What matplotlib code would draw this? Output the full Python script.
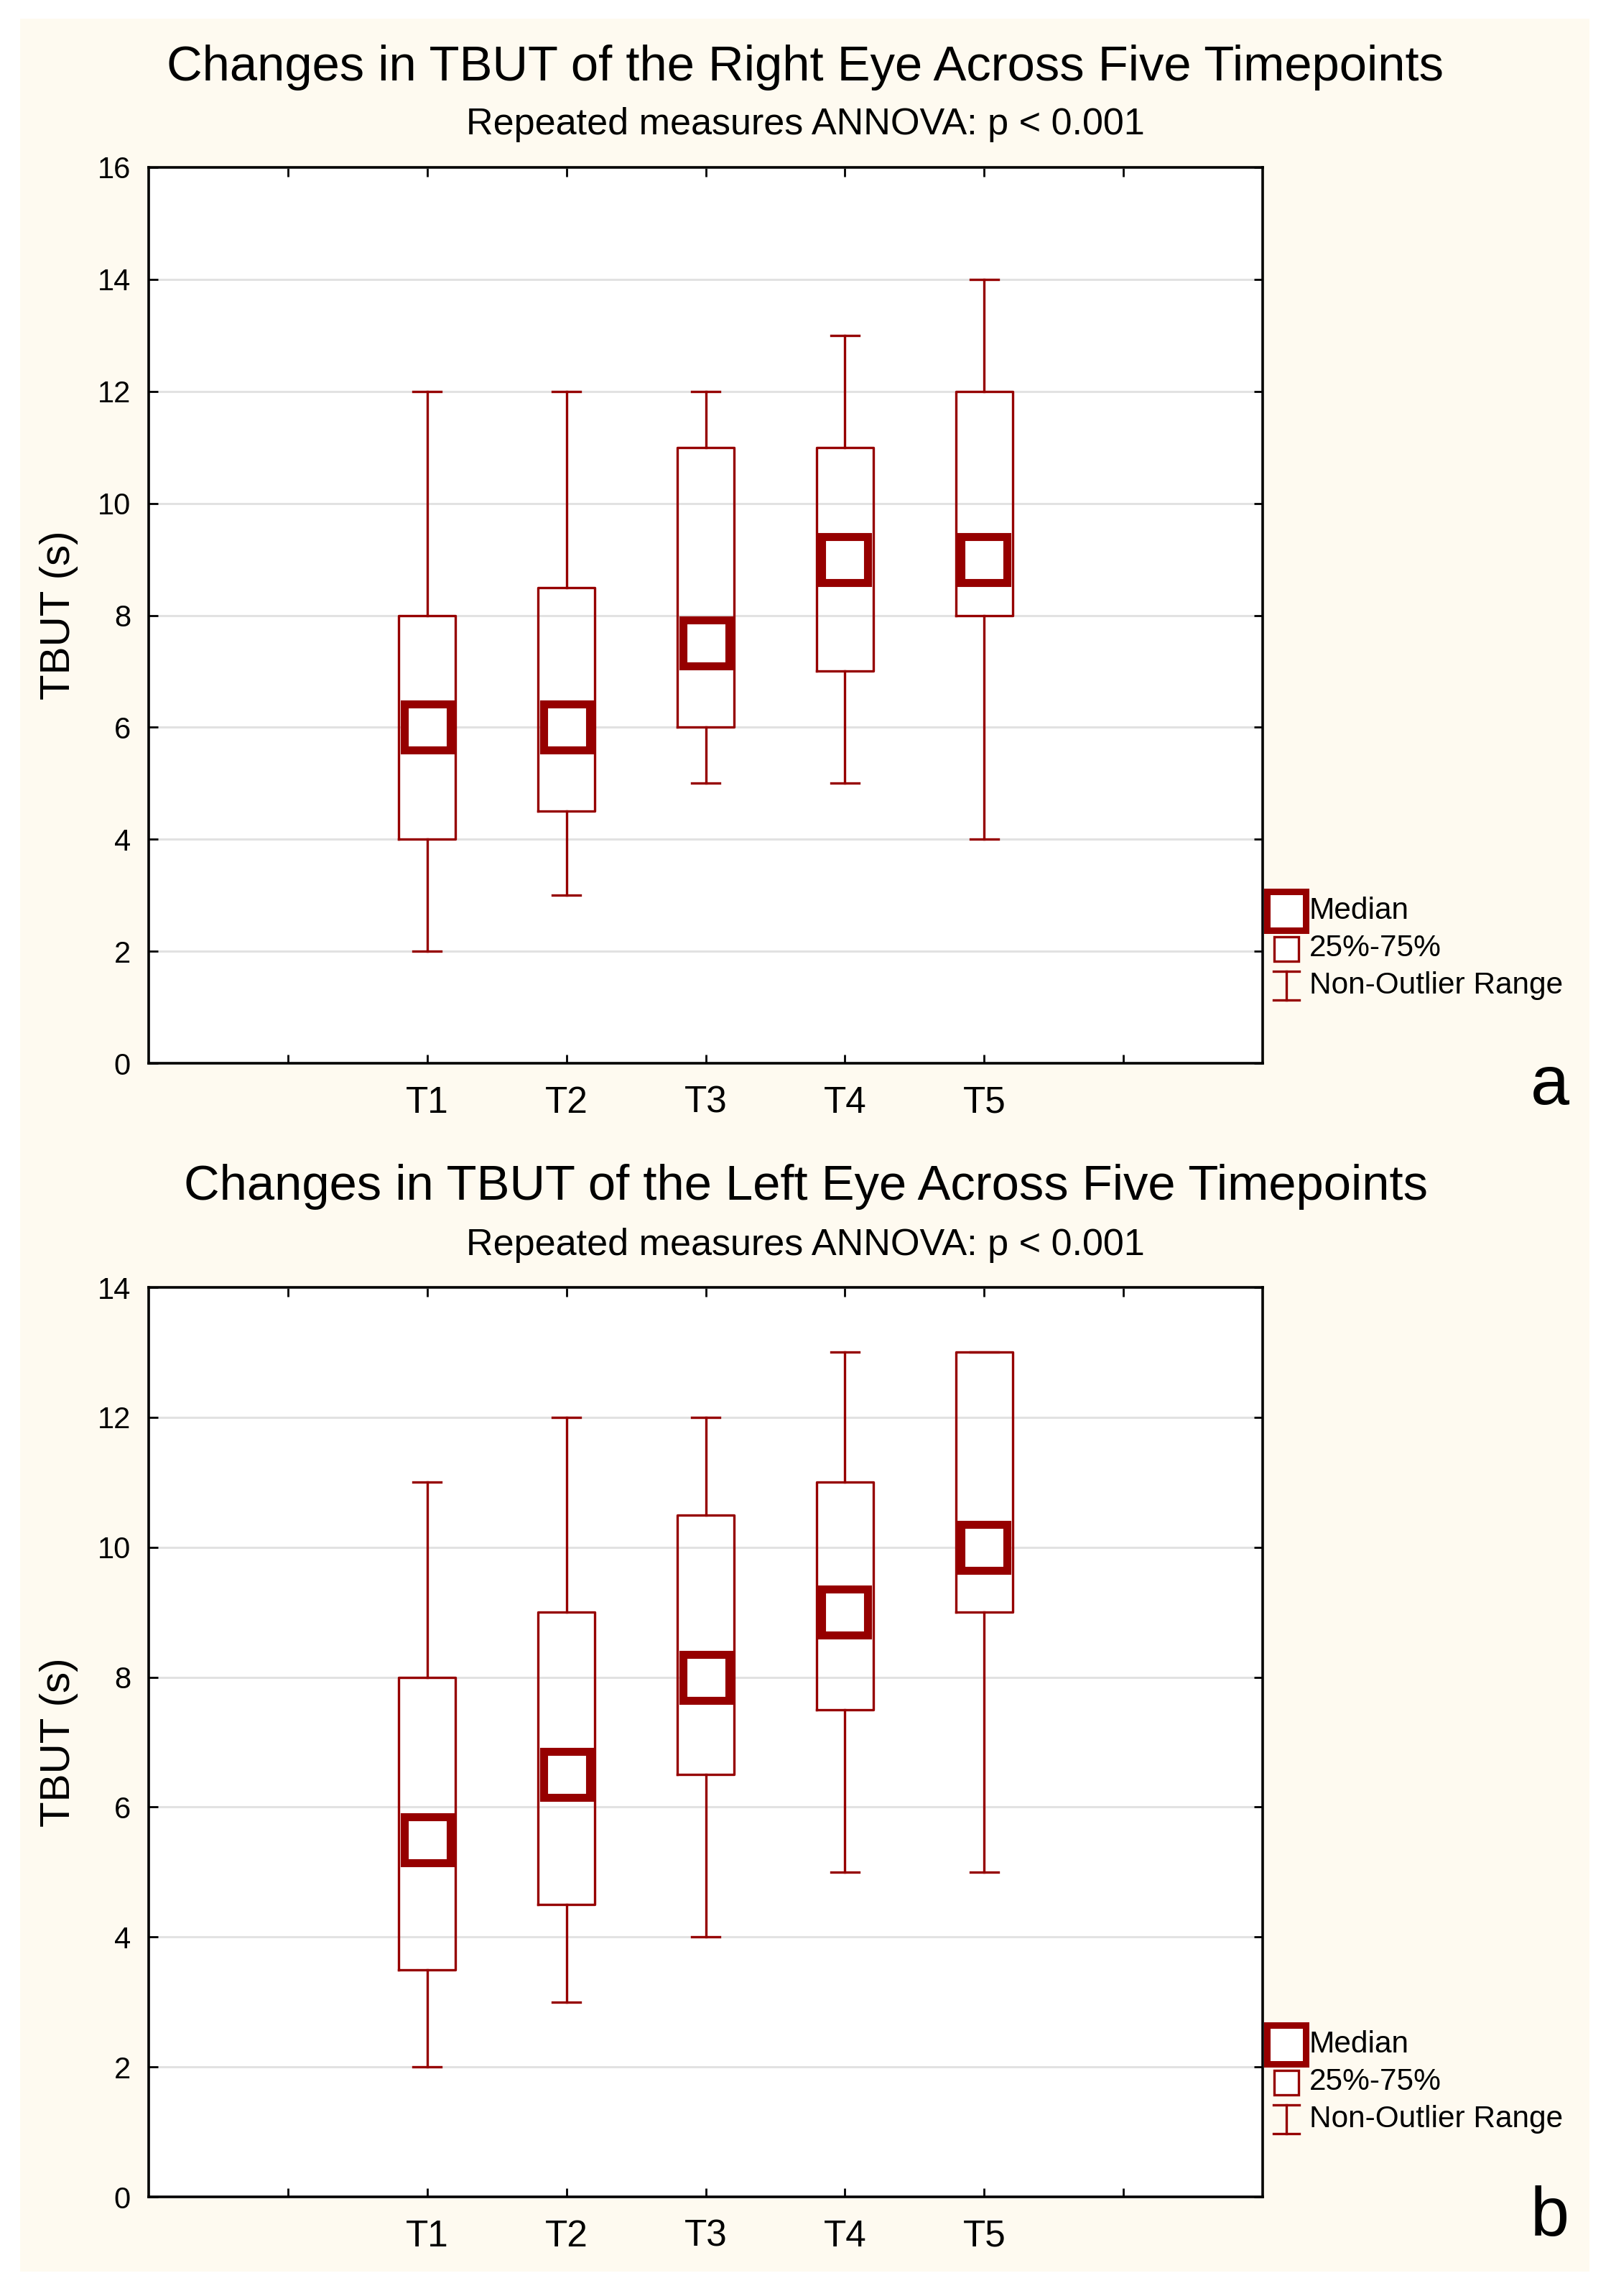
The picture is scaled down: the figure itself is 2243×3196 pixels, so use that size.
import matplotlib
matplotlib.use('Agg')
import matplotlib.pyplot as plt
from matplotlib.patches import Rectangle
from matplotlib.lines import Line2D

plt.rcParams['font.family'] = ['Liberation Sans', 'DejaVu Sans']

# Data
timepoints = ['T1', 'T2', 'T3', 'T4', 'T5']

right_median = [6, 6, 7.5, 9, 9]
right_q1 = [4, 4.5, 6, 7, 8]
right_q3 = [8, 8.5, 11, 11, 12]
right_min = [2, 3, 5, 5, 4]
right_max = [12, 12, 12, 13, 14]

left_median = [5.5, 6.5, 8, 9, 10]
left_q1 = [3.5, 4.5, 6.5, 7.5, 9]
left_q3 = [8, 9, 10.5, 11, 13]
left_min = [2, 3, 4, 5, 5]
left_max = [11, 12, 12, 13, 13]

RED = '#960000'
CREAM = '#FEFAF0'
W, H = 2243, 3196

fig = plt.figure(figsize=(W / 100, H / 100), dpi=100, facecolor='white')
fig.patches.append(Rectangle((28 / W, 1 - 3162 / H), (2213 - 28) / W, (3162 - 26) / H,
                             transform=fig.transFigure, facecolor=CREAM, edgecolor='none', zorder=-10))


def fx(x):
    return x / W


def fy(y):
    return 1 - y / H


def draw_panel(top, bottom, title, subtitle, title_y, sub_y, letter, letter_y,
               med, q1, q3, lo, hi, ymax):
    ax = fig.add_axes([fx(207), fy(bottom), fx(1758) - fx(207), fy(top) - fy(bottom)])
    ax.set_facecolor('white')
    positions = list(range(2, 2 + len(timepoints)))
    stats = []
    for i in range(len(timepoints)):
        stats.append(dict(med=med[i], q1=q1[i], q3=q3[i], whislo=lo[i], whishi=hi[i],
                          label=timepoints[i]))
    line = dict(color=RED, linewidth=2.4)
    ax.bxp(stats, positions=positions, widths=0.41, capwidths=0.2, showfliers=False,
           boxprops=line, whiskerprops=line, capprops=line,
           medianprops=dict(linewidth=0), manage_ticks=False, zorder=3)
    ax.plot(positions, med, linestyle='none', marker='s', markersize=46, markeredgewidth=8,
            markerfacecolor='white', markeredgecolor=RED, zorder=5)

    ax.set_xlim(0, 8)
    ax.set_ylim(0, ymax)
    ax.set_xticks(range(1, 8))
    ax.set_xticklabels([''] + timepoints + [''], fontsize=37)
    ax.set_yticks(range(0, ymax + 1, 2))
    ax.tick_params(axis='y', labelsize=30, pad=18)
    ax.tick_params(axis='x', pad=22)
    ax.tick_params(direction='in', length=9, width=2, top=True, right=True, color='black')
    ax.grid(axis='y', color='#E2E2E2', linewidth=2.2, zorder=0)
    ax.set_axisbelow(True)
    for s in ax.spines.values():
        s.set_linewidth(2.6)
        s.set_zorder(6)
    ax.set_ylabel('TBUT (s)', fontsize=42, labelpad=19)

    fig.text(0.5, fy(title_y), title, ha='center', va='center', fontsize=49.5)
    fig.text(0.5, fy(sub_y), subtitle, ha='center', va='center', fontsize=37.5)
    fig.text(fx(2158), fy(letter_y), letter, ha='center', va='center', fontsize=70)

    # legend at the right edge of the plot
    cx = 1791
    y_med = bottom - 212
    y_box = bottom - 160
    y_rng = bottom - 108
    fig.add_artist(Line2D([fx(cx)], [fy(y_med)], marker='s', markersize=39, markeredgewidth=6.5,
                          markerfacecolor='white', markeredgecolor=RED, transform=fig.transFigure,
                          zorder=10))
    fig.add_artist(Line2D([fx(cx)], [fy(y_box + 1)], marker='s', markersize=25, markeredgewidth=2.4,
                          markerfacecolor='white', markeredgecolor=RED, transform=fig.transFigure,
                          zorder=10))
    fig.add_artist(Line2D([fx(cx), fx(cx)], [fy(y_rng - 20), fy(y_rng + 20)], color=RED, linewidth=2.4,
                          transform=fig.transFigure, zorder=10))
    for yy in (y_rng - 20, y_rng + 20):
        fig.add_artist(Line2D([fx(cx - 18), fx(cx + 18)], [fy(yy), fy(yy)], color=RED, linewidth=2.4,
                              transform=fig.transFigure, zorder=10))
    for yy, txt in ((y_med, 'Median'), (y_box, '25%-75%'), (y_rng, 'Non-Outlier Range')):
        fig.text(fx(1823), fy(yy), txt, ha='left', va='center', fontsize=30.5, zorder=10)
    return ax


draw_panel(233, 1480, 'Changes in TBUT of the Right Eye Across Five Timepoints',
           'Repeated measures ANNOVA: p < 0.001', 94, 173, 'a', 1512,
           right_median, right_q1, right_q3, right_min, right_max, 16)
draw_panel(1792, 3058, 'Changes in TBUT of the Left Eye Across Five Timepoints',
           'Repeated measures ANNOVA: p < 0.001', 1652, 1733, 'b', 3087,
           left_median, left_q1, left_q3, left_min, left_max, 14)

fig.savefig('out.png', dpi=100, facecolor='white')
